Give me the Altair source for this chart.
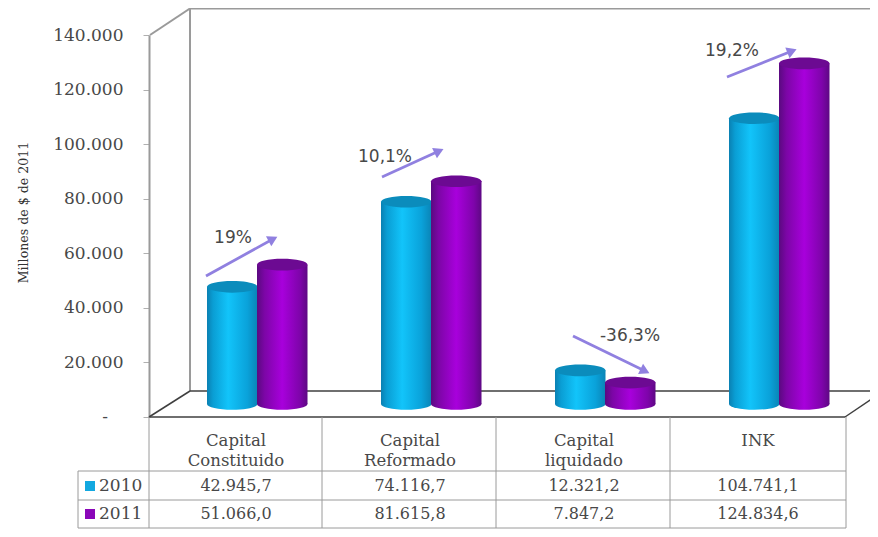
import altair as alt
import pandas as pd

categories = [["Capital", "Constituido"], ["Capital", "Reformado"], ["Capital", "liquidado"], ["INK"]]
values_2010 = [42945.7, 74116.7, 12321.2, 104741.1]
values_2011 = [51066.0, 81615.8, 7847.2, 124834.6]
y_ticks = [0, 20000, 40000, 60000, 80000, 100000, 120000, 140000]
changes = ["19%", "10,1%", "-36,3%", "19,2%"]

SERIF = "DejaVu Serif"
SANS = "DejaVu Sans"
INK = "#484848"
GRID = "#9a9a9a"
ARROW = "#9080e0"

# picture position -> scale units
def X(px):
    return (px - 149) / 174
def Y(py):
    return (417 - py) * 140000 / 382

xs = alt.Scale(domain=[0, 4], nice=False, zero=False)
ys = alt.Scale(domain=[0, 140000], nice=False, zero=False)
y_axis = alt.Axis(values=y_ticks, domainColor=GRID, domainWidth=2, tickColor="#b0b0b0",
                  tickWidth=1, tickSize=6, grid=False, labelFont=SERIF, labelFontSize=17,
                  labelColor=INK, labelPadding=20,
                  labelExpr="datum.value == 0 ? '' : replace(format(datum.value, ','), ',', '.')",
                  titleFont=SERIF, titleFontSize=12.6, titleFontWeight="normal",
                  titleColor="#333333", titleX=-119, titleY=177)
TITLE = "Millones de $ de 2011"
x_ = alt.X("x:Q", scale=xs, axis=None)
y_ = alt.Y("y:Q", scale=ys, axis=y_axis, title=TITLE)

def segs(rows):
    return pd.DataFrame([{"x": X(a), "y": Y(b), "x2": X(c), "y2": Y(d)} for a, b, c, d in rows])

def rules(rows, color, width):
    return alt.Chart(segs(rows)).mark_rule(color=color, strokeWidth=width).encode(
        x=x_, y=y_, x2="x2:Q", y2="y2:Q")

walls = rules([(190, 8.5, 190, 391), (190, 8.5, 880, 8.5), (150, 35, 190, 8.5)], GRID, 2)
floor = rules([(190, 391, 880, 391), (149, 417, 190, 391), (845, 417, 876, 396), (149, 417, 845, 417)], "#3f3f3f", 1.5)
R1, R2, R3 = 471, 500, 528
table = rules([(78, R1, 846, R1), (78, R2, 846, R2), (78, R3, 846, R3), (78, R1, 78, R3),
               (149, 417, 149, R3), (322, 417, 322, R3), (496, 417, 496, R3), (670, 417, 670, R3),
               (846, 417, 846, R3)], GRID, 1)

zero_txt = alt.Chart(pd.DataFrame({"x": [X(105)], "y": [0], "t": ["-"]})).mark_text(
    font=SERIF, fontSize=17, color=INK).encode(x=x_, y=y_, text="t:N")

def grad(stops):
    return {"gradient": "linear", "x1": 0, "y1": 0, "x2": 1, "y2": 0,
            "stops": [{"offset": o, "color": c} for o, c in stops]}

BLUE = grad([(0, "#0a80b2"), (0.12, "#0a9ed4"), (0.42, "#12c4fa"), (0.8, "#0aa2da"), (1, "#0a84b6")])
PURPLE = grad([(0, "#5a0a80"), (0.15, "#7c06a6"), (0.5, "#a800dc"), (0.85, "#7e04aa"), (1, "#5e0884")])
ELL = "M-1,0A1,0.23,0,1,1,1,0A1,0.23,0,1,1,-1,0Z"
STARTS = [207, 381, 555, 729]
BW = 50.5
LIFT = -13

def cylinders(values, offset, body, top):
    df = pd.DataFrame({
        "x": [X(s + offset) for s in STARTS],
        "x2": [X(s + offset + BW) for s in STARTS],
        "xc": [X(s + offset + BW / 2) for s in STARTS],
        "y": values,
        "y0": [0, 0, 0, 0],
    })
    xc = alt.X("xc:Q", scale=xs, axis=None)
    size = BW ** 2
    base = alt.Chart(df).mark_point(shape=ELL, filled=True, fill=body, size=size, opacity=1,
                                    strokeWidth=0, yOffset=LIFT).encode(
        x=xc, y=alt.Y("y0:Q", scale=ys, axis=y_axis, title=TITLE))
    col = alt.Chart(df).mark_rect(fill=body, yOffset=LIFT, y2Offset=LIFT).encode(
        x=x_, x2="x2:Q", y=y_, y2="y0:Q")
    cap = alt.Chart(df).mark_point(shape=ELL, filled=True, fill=top, size=size, opacity=1,
                                   strokeWidth=0, yOffset=LIFT).encode(x=xc, y=y_)
    return [base, col, cap]

bars_2010 = cylinders(values_2010, 0, BLUE, "#0b8cbc")
bars_2011 = cylinders(values_2011, 50, PURPLE, "#6c0a92")

# growth arrows: tail -> head
arrows = [(206, 276, 273, 239), (382, 177, 439, 151), (573, 336, 645, 371), (727, 77, 792, 51)]
arrow_lines = rules(arrows, ARROW, 2.8)
heads = pd.DataFrame({
    "x": [X(a[2]) for a in arrows],
    "y": [Y(a[3]) for a in arrows],
    "angle": [62, 65, 116, 68],
})
arrow_heads = alt.Chart(heads).mark_point(shape="triangle-up", filled=True, color=ARROW, opacity=1, size=130).encode(
    x=x_, y=y_, angle=alt.Angle("angle:Q", scale=None))

change_df = pd.DataFrame({
    "x": [X(233), X(385), X(630), X(732)],
    "y": [Y(238), Y(157), Y(336), Y(51)],
    "t": changes,
})
change_txt = alt.Chart(change_df).mark_text(font=SANS, fontSize=17, color=INK).encode(x=x_, y=y_, text="t:N")

centers = [0.5, 1.5, 2.5, 3.5]
cat_rows = []
for c, lines in zip(centers, categories):
    for py, t in zip([441, 461], lines):
        cat_rows.append({"x": c, "y": Y(py), "t": t})
cat_txt = alt.Chart(pd.DataFrame(cat_rows)).mark_text(font=SERIF, fontSize=16.5, color=INK).encode(x=x_, y=y_, text="t:N")

def fmt(v):
    return f"{v:,.1f}".replace(",", "#").replace(".", ",").replace("#", ".")

val_rows = []
for c, a, b in zip(centers, values_2010, values_2011):
    val_rows.append({"x": c, "y": Y(486), "t": fmt(a)})
    val_rows.append({"x": c, "y": Y(514), "t": fmt(b)})
val_txt = alt.Chart(pd.DataFrame(val_rows)).mark_text(font=SERIF, fontSize=16, color=INK).encode(x=x_, y=y_, text="t:N")

leg_df = pd.DataFrame({"x": [X(99), X(99)], "kx": [X(90), X(90)], "y": [Y(486), Y(514)],
                       "t": ["2010", "2011"], "c": ["#12a8e0", "#8a06b8"]})
leg_txt = alt.Chart(leg_df).mark_text(font=SERIF, fontSize=17, color=INK, align="left").encode(x=x_, y=y_, text="t:N")
leg_key = alt.Chart(leg_df).mark_square(size=100, opacity=1).encode(
    x=alt.X("kx:Q", scale=xs, axis=None), y=y_, color=alt.Color("c:N", scale=None))

chart = alt.layer(
    walls, floor, table,
    *bars_2010, *bars_2011,
    arrow_lines, arrow_heads, change_txt, cat_txt, val_txt, leg_key, leg_txt, zero_txt,
).properties(
    width=696, height=382,
    padding={"left": 141, "top": 27, "right": 25, "bottom": 112},
    autosize=alt.AutoSizeParams(type="none"),
    background="white",
).configure_view(stroke=None)

chart.save("out.html", embed_options={"renderer": "svg", "actions": False})
